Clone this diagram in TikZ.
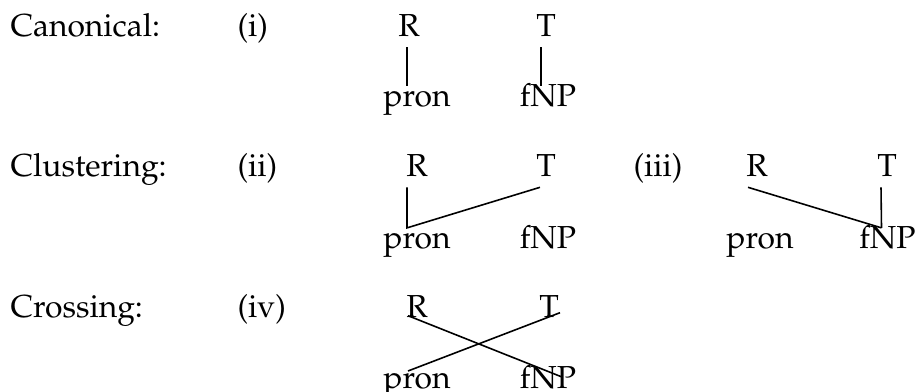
\documentclass[tikz,border=0pt]{standalone}
\usepackage[T1]{fontenc}
\usepackage{mathpazo}

\begin{document}
\begin{tikzpicture}[x=0.377pt,y=-0.377pt,font=\fontsize{12}{14}\selectfont,
lbl/.style={anchor=base west,inner sep=0pt},
word/.style={anchor=base,inner sep=0pt,text height=7.5pt,text depth=3.8pt},
lnk/.style={line width=0.6pt}]
\useasboundingbox (0,0) rectangle (918,392);
% row labels
\node[lbl] (canon) at (10,36.7) {Canonical:};
\node[lbl] (clust) at (10,176.7) {Clustering:};
\node[lbl] (cross) at (10,317.7) {Crossing:};
\node[lbl] (ex1) at (237,36.7) {(i)};
\node[lbl] (ex2) at (237,176.7) {(ii)};
\node[lbl] (ex3) at (633,176.7) {(iii)};
\node[lbl] (ex4) at (237,317.7) {(iv)};
% (i)
\node[word] (R1) at (409,36.7) {R};
\node[word] (T1) at (546,36.7) {T};
\node[word] (pron1) at (417,106.7) {pron};
\node[word] (fNP1) at (548,106.7) {fNP};
\draw[lnk] ([shift={(-2,0)}]R1.south) -- ([shift={(-2,0)}]R1.south |- pron1.north);
\draw[lnk] ([shift={(-5,0)}]T1.south) -- ([shift={(-5,0)}]T1.south |- fNP1.north);
% (ii)
\node[word] (R2) at (417,176.7) {R};
\node[word] (T2) at (546,176.7) {T};
\node[word] (pron2) at (417,248.3) {pron};
\node[word] (fNP2) at (548,248.3) {fNP};
\draw[lnk] ([shift={(-10,0)}]R2.south) -- ([shift={(-10,0)}]R2.south |- pron2.north) -- ([shift={(-6,0)}]T2.south);
% (iii)
\node[word] (R3) at (757,176.7) {R};
\node[word] (T3) at (887,176.7) {T};
\node[word] (pron3) at (760,248.3) {pron};
\node[word] (fNP3) at (887.5,248.3) {fNP};
\draw[lnk] ([shift={(-9,0)}]R3.south) -- ([shift={(-6,0)}]fNP3.north);
\draw[lnk] ([shift={(-6,0)}]T3.south) -- ([shift={(-6,0)}]fNP3.north);
% (iv)
\node[word] (R4) at (417,317.7) {R};
\node[word] (T4) at (549,317.7) {T};
\node[word] (pron4) at (417,388) {pron};
\node[word] (fNP4) at (548,388) {fNP};
\draw[lnk] ([shift={(-9,-2)}]R4.base) -- ([shift={(14,-11)}]fNP4.base);
\draw[lnk] ([shift={(-9,-17)}]pron4.base) -- ([shift={(11,-5)}]T4.base);
\end{tikzpicture}
\end{document}
